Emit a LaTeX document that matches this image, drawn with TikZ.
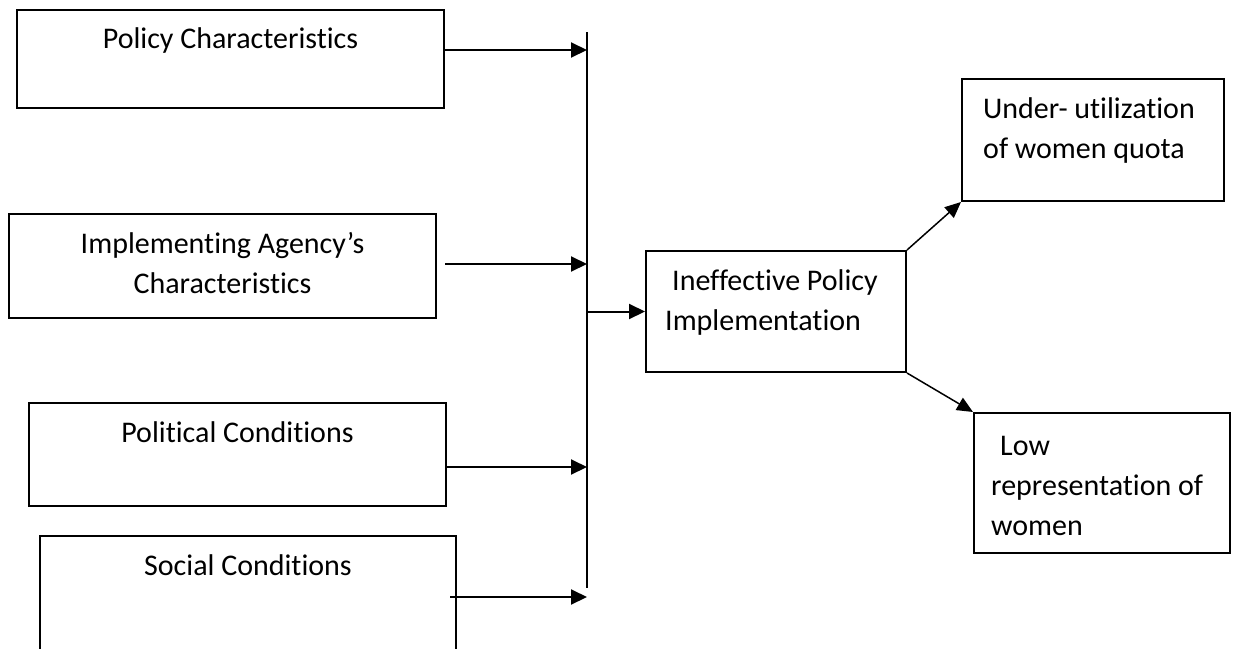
\documentclass[tikz,border=0pt]{standalone}
\usepackage{fontspec}
\setmainfont{Carlito}[Ligatures={NoCommon}]
\usetikzlibrary{arrows.meta, calc, positioning}
\tikzset{
  fw-box/.style={rectangle, draw=black, line width=2pt, inner sep=0pt},
  fw-text/.style={inner sep=0pt, font=\fontsize{30}{40}\selectfont},
  fw-arrow/.style={-{Triangle[length=16pt, width=15pt]}, line width=2pt},
  fw-arrow-thin/.style={-{Triangle[length=16pt, width=14pt]}, line width=1.5pt},
  fw-bar/.style={line width=1.2pt}
}

\begin{document}
\begin{tikzpicture}[x=1pt, y=-1pt]
    \useasboundingbox (0,0) rectangle (1241,648);
    % Left side: the four factors
    \node[fw-box, minimum width=427pt, minimum height=98pt] (policy) at (230.5,59) {};
    \node[fw-box, minimum width=427pt, minimum height=104pt] (agency) at (222.5,266) {};
    \node[fw-box, minimum width=417pt, minimum height=103pt] (political) at (237.5,454.5) {};
    \node[fw-box, minimum width=416pt, minimum height=122pt] (social) at (248,597) {};
    \node[fw-text, anchor=base] (policy-txt) at (230.5,48) {Policy Characteristics};
    \node[fw-text, anchor=north, align=center] (agency-txt) at (222.5,232) {Implementing Agency’s\\Characteristics};
    \node[fw-text, anchor=base] (political-txt) at (237.5,442) {Political Conditions};
    \node[fw-text, anchor=base] (social-txt) at (248,575) {Social Conditions};
    % Collecting bar
    \coordinate (bar-top) at (587,32);
    \coordinate (bar-bot) at (587,588);
    \draw[fw-bar] (bar-top) -- (bar-bot);
    \path ([yshift=9pt]policy.east) coordinate (policy-out);
    \path ([yshift=2pt]agency.east) coordinate (agency-out);
    \path ([yshift=-12.5pt]political.east) coordinate (political-out);
    \path ([xshift=-7pt]social.east) coordinate (social-out);
    \draw[fw-arrow] (policy-out) -- (policy-out -| bar-top);
    \draw[fw-arrow] ([xshift=8pt]agency-out) -- (agency-out -| bar-top);
    \draw[fw-arrow] (political-out) -- (political-out -| bar-top);
    \draw[fw-arrow] (social-out) -- (social-out -| bar-top);
    % Middle: the outcome of the factors
    \node[fw-box, minimum width=260pt, minimum height=121pt] (ineff) at (776,311.5) {};
    \node[fw-text, anchor=north west, align=left] (ineff-txt) at (665,269) {\hspace*{7pt}Ineffective Policy\\Implementation};
    \draw[fw-arrow] (ineff.west -| bar-top) -- (ineff.west);
    % Right side: consequences
    \node[fw-box, minimum width=262pt, minimum height=122pt] (under) at (1093,140) {};
    \node[fw-text, anchor=north west, align=left] (under-txt) at (983,97) {Under- utilization\\of women quota};
    \node[fw-box, minimum width=256pt, minimum height=140pt] (low) at (1102,483) {};
    \node[fw-text, anchor=north west, align=left] (low-txt) at (991,436) {\hspace*{9pt}Low\\representation of\\women};
    \draw[fw-arrow-thin] (ineff.north east) -- (under.south west);
    \draw[fw-arrow-thin] (ineff.south east) -- (low.north west);
\end{tikzpicture}
\end{document}
